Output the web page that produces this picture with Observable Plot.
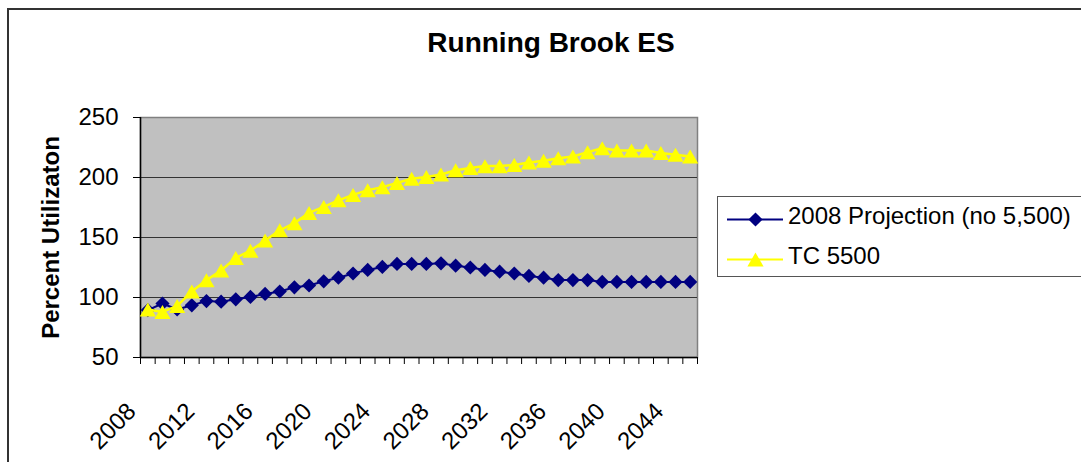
<!DOCTYPE html>
<html>
<head>
<meta charset="utf-8">
<script src="https://cdn.jsdelivr.net/npm/d3@7"></script>
<script src="https://cdn.jsdelivr.net/npm/@observablehq/plot@0.6"></script>
<style>
  body { margin: 0; background: #fff; }
  #wrap { position: relative; width: 1081px; height: 462px; overflow: hidden; font-family: "Liberation Sans", Arial, sans-serif; color: #000; }
  #chart svg { position: absolute; left: 0; top: 0; }
  #outer { position: absolute; left: 7px; top: 8px; width: 1100px; height: 480px; border-top: 2px solid #333; border-left: 2px solid #333; }
  #title { position: absolute; left: 351px; width: 400px; top: 29px; text-align: center; font-weight: bold; font-size: 28px; line-height: 28px; }
  #legend { position: absolute; left: 717px; top: 196px; width: 400px; height: 79px; border: 1px solid #555; background: #fff; }
  .row { position: absolute; left: 9px; width: 380px; height: 24px; font-size: 24px; line-height: 24px; white-space: nowrap; }
  .row svg { position: absolute; left: 0; top: 3px; max-width: none !important; }
  .row span { position: absolute; left: 61px; top: 0; }
</style>
</head>
<body>
<div id="wrap">
  <div id="outer"></div>
  <div id="chart"></div>
  <div id="title"></div>
  <div id="legend"></div>
</div>
<script>
const chartTitle = "Running Brook ES";
const yLabel = "Percent Utilizaton";
const seriesNames = ["2008 Projection (no 5,500)", "TC 5500"];
const seriesColors = ["#000080", "#FFFF00"];
const years = [2008, 2009, 2010, 2011, 2012, 2013, 2014, 2015, 2016, 2017,
               2018, 2019, 2020, 2021, 2022, 2023, 2024, 2025, 2026, 2027,
               2028, 2029, 2030, 2031, 2032, 2033, 2034, 2035, 2036, 2037,
               2038, 2039, 2040, 2041, 2042, 2043, 2044, 2045];
const projection = [89.5, 95, 90, 93.5, 97, 96.5, 98.5, 100.5, 103, 105,
                    108.5, 110, 113.5, 116.5, 120, 123, 125.5, 128, 128, 128,
                    128.5, 126.5, 125, 123, 121.5, 120, 118, 116.5, 114.5, 114.5,
                    114.5, 113, 113, 113, 113, 113, 113, 113];
const tc5500 = [90, 88, 93, 105, 114.5, 122.5, 133, 139, 147.5, 156,
                162, 170.5, 175.5, 181, 185.5, 189.5, 192, 195.5, 199, 200.5,
                202.5, 206, 208, 209.5, 209.5, 210.5, 212.5, 214, 216, 217.5,
                221, 224.5, 222.5, 222.5, 222.5, 220.5, 219, 217.5];
const yTicks = [50, 100, 150, 200, 250];
const gridValues = [100, 150, 200];
const xLabels = [2008, 2012, 2016, 2020, 2024, 2028, 2032, 2036, 2040, 2044];

const font = '"Liberation Sans", Arial, sans-serif';
const data1 = years.map((year, i) => ({year, value: projection[i]}));
const data2 = years.map((year, i) => ({year, value: tc5500[i]}));
const boundaries = [...years.map(y => y - 0.5), years[years.length - 1] + 0.5];
const symbols = ["diamond2", "triangle"];
const symbolR = [6.4, 6];
const symbolDy = [0, 2.4];

const chart = Plot.plot({
  width: 1081,
  height: 462,
  marginLeft: 140,
  marginRight: 384,
  marginTop: 117,
  marginBottom: 105,
  style: {fontFamily: font, fontSize: "24px", background: "transparent", color: "#000", overflow: "visible"},
  x: {domain: [boundaries[0], boundaries[boundaries.length - 1]]},
  y: {domain: [yTicks[0], yTicks[yTicks.length - 1]]},
  marks: [
    Plot.frame({fill: "#C0C0C0", stroke: "#808080", strokeWidth: 1.5}),
    Plot.ruleY(gridValues, {stroke: "#333", strokeWidth: 1.2}),
    Plot.ruleY([yTicks[0]], {stroke: "#000", strokeWidth: 1.5}),
    Plot.ruleX([boundaries[0]], {stroke: "#000", strokeWidth: 1.5}),
    Plot.axisY({ticks: yTicks, tickSize: 7, tickPadding: 15, label: null, fontSize: 24}),
    Plot.axisX({ticks: boundaries, tickSize: 7, tickFormat: () => "", label: null}),
    Plot.text(xLabels, {x: d => d, text: d => String(d), frameAnchor: "bottom", rotate: -45,
      textAnchor: "end", lineAnchor: "middle", dx: -16, dy: 50, fontSize: 24}),
    Plot.text([yLabel], {text: d => d, frameAnchor: "left", rotate: -90, dx: -89,
      fontWeight: "bold", fontSize: 24, lineAnchor: "middle", textAnchor: "middle"}),
    Plot.line(data1, {x: "year", y: "value", stroke: seriesColors[0], strokeWidth: 2}),
    Plot.dot(data1, {x: "year", y: "value", symbol: symbols[0], r: symbolR[0], fill: seriesColors[0], stroke: null}),
    Plot.line(data2, {x: "year", y: "value", stroke: seriesColors[1], strokeWidth: 2.5}),
    Plot.dot(data2, {x: "year", y: "value", symbol: symbols[1], r: symbolR[1], fill: seriesColors[1], stroke: null, dy: symbolDy[1]})
  ]
});
document.getElementById("chart").appendChild(chart);
document.getElementById("title").textContent = chartTitle;

// legend
const legend = document.getElementById("legend");
seriesNames.forEach((name, i) => {
  const row = document.createElement("div");
  row.className = "row";
  row.style.top = (i === 0 ? 7 : 47) + "px";
  const sym = Plot.plot({
    width: 56, height: 24, margin: 0,
    x: {domain: [0, 2], axis: null},
    y: {domain: [0, 1], axis: null},
    style: {background: "transparent", overflow: "visible"},
    marks: [
      Plot.ruleY([0.5], {stroke: seriesColors[i], strokeWidth: 2}),
      Plot.dot([1], {x: d => d, y: () => 0.5, symbol: symbols[i], r: symbolR[i],
        fill: seriesColors[i], stroke: null, dy: symbolDy[i]})
    ]
  });
  row.appendChild(sym);
  const span = document.createElement("span");
  span.textContent = name;
  row.appendChild(span);
  legend.appendChild(row);
});
</script>
</body>
</html>
